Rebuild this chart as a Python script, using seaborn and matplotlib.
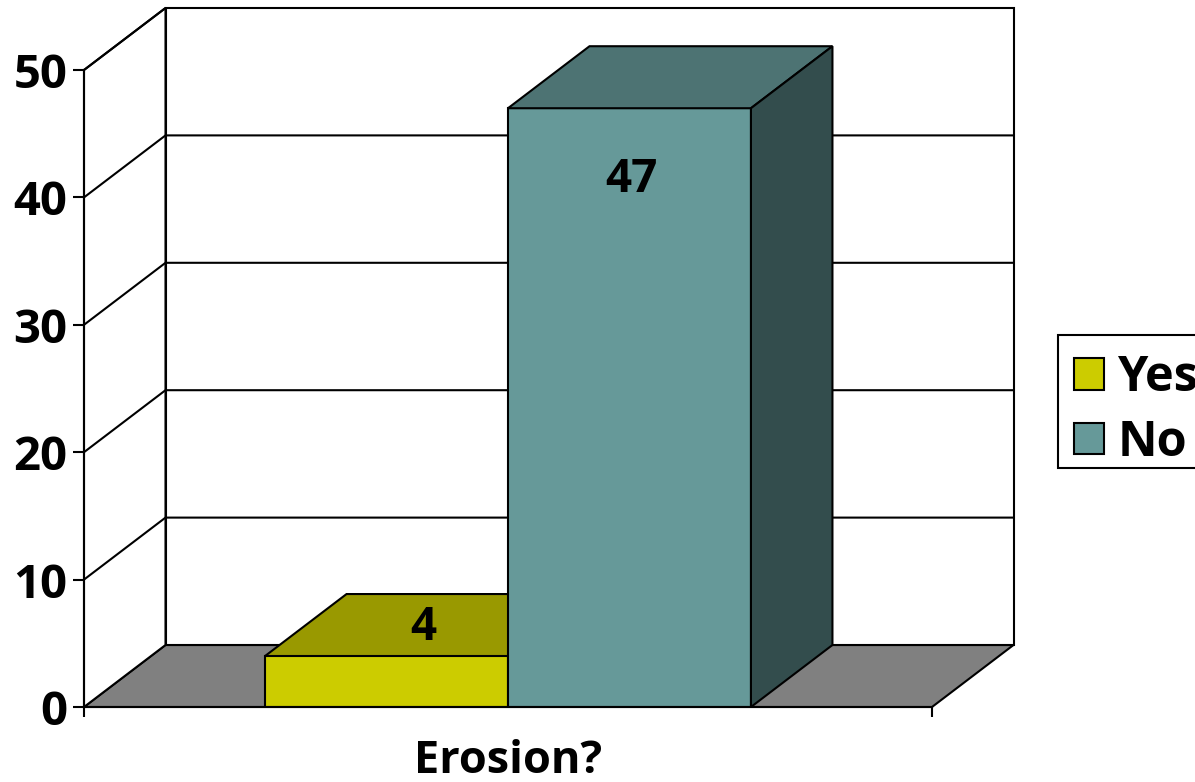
import matplotlib
matplotlib.use("Agg")
import matplotlib.pyplot as plt
import matplotlib.patches as mpatches
from matplotlib.transforms import Affine2D
import pandas as pd
import seaborn as sns

categories = ["Erosion?", "Erosion?"]
answers = ["Yes", "No"]
counts = [4, 47]
y_ticks = [0, 10, 20, 30, 40, 50]
colors = {"Yes": "#cccc00", "No": "#669999"}
top_colors = {"Yes": "#999900", "No": "#4d7373"}
side_colors = {"Yes": "#666600", "No": "#334d4d"}

W, H = 1195, 782
DX, DY = 81.5, 62  # depth of the fake 3d box, pixels
LW = 1.5

sns.set_theme(style="white")
plt.rcParams["font.family"] = ["Open Sans", "DejaVu Sans"]
plt.rcParams["font.weight"] = "bold"

df = pd.DataFrame({"q": categories, "answer": answers, "count": counts})

fig = plt.figure(figsize=(W / 100, H / 100), dpi=100, facecolor="white")
ax = fig.add_axes([84 / W, 1 - 707 / H, (932 - 84) / W, (707 - 70) / H])

sns.barplot(data=df, x="q", y="count", hue="answer", hue_order=answers,
            palette=colors, width=0.573, gap=0, saturation=1,
            edgecolor="black", linewidth=LW, ax=ax, zorder=5, legend=False)
bars = [p for p in ax.patches if p.get_width() > 0]
ax.set_xlim(-0.5, 0.5)
ax.set_ylim(0, 50)
ax.patch.set_alpha(0)

# pixel depth in data units
dx = DX / (932 - 84)
dy = DY / ((707 - 70) / 50)
line = dict(edgecolor="black", linewidth=LW, clip_on=False)

# floor and back wall
ax.add_patch(mpatches.Polygon([(-0.5, 0), (0.5, 0), (0.5 + dx, dy), (-0.5 + dx, dy)],
                              facecolor="#808080", zorder=1, **line))
ax.add_patch(mpatches.Polygon([(-0.5 + dx, dy), (0.5 + dx, dy), (0.5 + dx, 50 + dy), (-0.5 + dx, 50 + dy)],
                              facecolor="white", zorder=1, **line))
ax.add_patch(mpatches.Polygon([(-0.5, 0), (-0.5 + dx, dy), (-0.5 + dx, 50 + dy), (-0.5, 50)],
                              facecolor="white", zorder=1, **line))

for t in y_ticks[1:-1]:
    ax.plot([-0.5, -0.5 + dx, 0.5 + dx], [t, t + dy, t + dy], color="black", lw=LW,
            clip_on=False, zorder=2)
ax.plot([-0.5, -0.5 + dx], [50, 50 + dy], color="black", lw=LW, clip_on=False, zorder=2)

# bar tops and sides, then values
for bar, name, val in zip(bars, answers, counts):
    x0, x1 = bar.get_x(), bar.get_x() + bar.get_width()
    z = 3 if name == "Yes" else 6
    ax.add_patch(mpatches.Polygon([(x0, val), (x1, val), (x1 + dx, val + dy), (x0 + dx, val + dy)],
                                  facecolor=top_colors[name], zorder=z, **line))
    ax.add_patch(mpatches.Polygon([(x1, 0), (x1 + dx, dy), (x1 + dx, val + dy), (x1, val)],
                                  facecolor=side_colors[name], zorder=z, **line))

ax.text(-0.1, 4 + dy * 0.46, "4", ha="center", va="center", fontsize=33, fontweight="bold",
        color="black", zorder=8)
ax.text(0.145, 41.4, "47", ha="center", va="center", fontsize=33, fontweight="bold",
        color="black", zorder=8)

ax.set_yticks(y_ticks)
ax.set_yticklabels([str(t) for t in y_ticks], fontsize=34, fontweight="bold", color="black")
for lab in ax.get_yticklabels():
    lab.set_transform(lab.get_transform() + Affine2D().translate(0, -4))
ax.set_xticks([0])
ax.set_xticklabels(["Erosion?"], fontsize=32.5, fontweight="bold", color="black")
ax.set_xlabel("")
ax.set_ylabel("")
ax.set_xticks([-0.5, 0.5], minor=True)
ax.tick_params(axis="x", which="minor", length=7.5, width=LW, direction="out", color="black", bottom=True)
ax.tick_params(axis="x", which="major", length=0, pad=23)
ax.tick_params(axis="y", length=8, width=LW, color="black", left=True, pad=4)
for side in ["top", "right"]:
    ax.spines[side].set_visible(False)
for side in ["left", "bottom"]:
    ax.spines[side].set_color("black")
    ax.spines[side].set_linewidth(LW)
    ax.spines[side].set_zorder(7)

# legend frame runs off the right edge like the original
fig.add_artist(mpatches.Rectangle((1058 / W, 1 - 468 / H), 150 / W, 133 / H, transform=fig.transFigure,
                                  facecolor="white", edgecolor="black", linewidth=LW, zorder=3))
handles = [mpatches.Patch(facecolor=colors[a], edgecolor="black", linewidth=LW, label=a) for a in answers]
leg = fig.legend(handles=handles, loc="upper left", bbox_to_anchor=(1058 / W, 1 - 338 / H),
                 bbox_transform=fig.transFigure, fontsize=35, frameon=False, labelcolor="black",
                 handlelength=0.62, handleheight=0.62, handletextpad=0.27, borderaxespad=0,
                 borderpad=0.33, labelspacing=0.32)
leg.set_zorder(4)

fig.savefig("out.png", dpi=100)
